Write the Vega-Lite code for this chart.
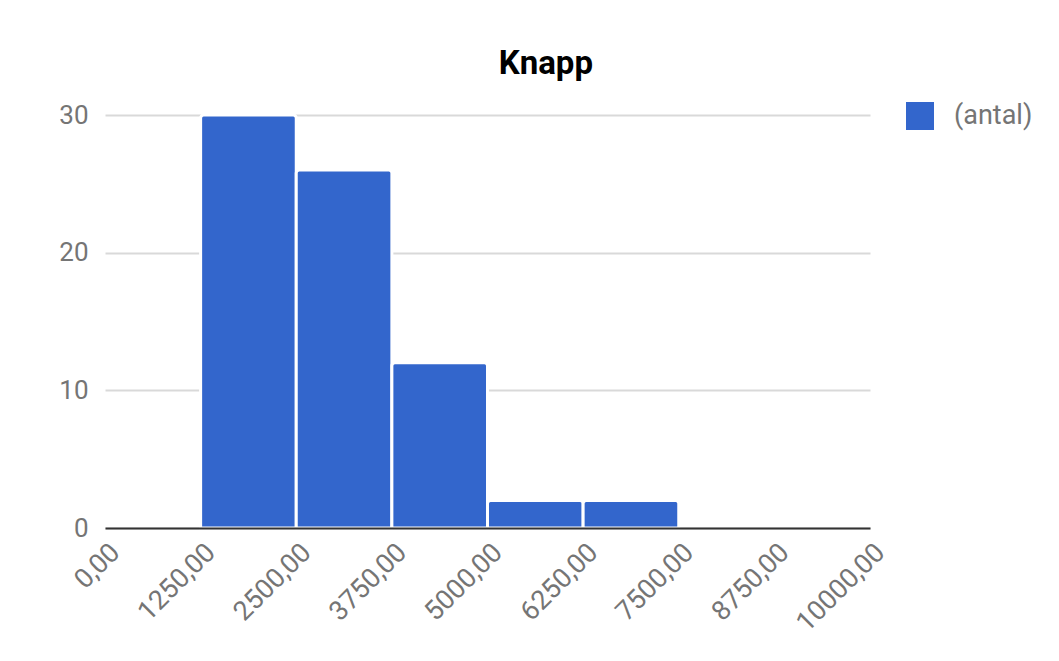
{
  "$schema": "https://vega.github.io/schema/vega-lite/v6.json",
  "autosize": "none",
  "width": 765,
  "height": 413,
  "padding": {"left": 105, "top": 115, "right": 189, "bottom": 133},
  "background": "white",
  "title": {
    "text": "Knapp",
    "font": "Roboto",
    "fontSize": 33,
    "fontWeight": "bold",
    "color": "#000000",
    "anchor": "middle",
    "frame": "bounds",
    "offset": 21
  },
  "data": {
    "values": [
      {"bin_start": 1250, "bin_end": 2500, "count": 30, "series": "(antal)"},
      {"bin_start": 2500, "bin_end": 3750, "count": 26, "series": "(antal)"},
      {"bin_start": 3750, "bin_end": 5000, "count": 12, "series": "(antal)"},
      {"bin_start": 5000, "bin_end": 6250, "count": 2, "series": "(antal)"},
      {"bin_start": 6250, "bin_end": 7500, "count": 2, "series": "(antal)"}
    ]
  },
  "mark": {
    "type": "bar",
    "stroke": "white",
    "strokeWidth": 3,
    "cornerRadiusTopLeft": 3,
    "cornerRadiusTopRight": 3
  },
  "encoding": {
    "x": {
      "field": "bin_start",
      "type": "quantitative",
      "scale": {"domain": [0, 10000], "nice": false, "zero": true},
      "axis": {
        "title": null,
        "values": [0, 1250, 2500, 3750, 5000, 6250, 7500, 8750, 10000],
        "labelExpr": "replace(format(datum.value, '.2f'), '.', ',')",
        "labelAngle": -45,
        "labelAlign": "right",
        "labelBaseline": "middle",
        "labelPadding": 20,
        "labelOffset": 10,
        "labelFont": "Roboto",
        "labelFontSize": 27,
        "labelColor": "#757575",
        "labelOverlap": false,
        "labelBound": false,
        "labelFlush": false,
        "ticks": false,
        "grid": false,
        "domain": true,
        "domainColor": "#333333",
        "domainWidth": 2,
        "zindex": 1
      }
    },
    "x2": {"field": "bin_end"},
    "y": {
      "field": "count",
      "type": "quantitative",
      "scale": {"domain": [0, 30], "nice": false},
      "axis": {
        "title": null,
        "values": [0, 10, 20, 30],
        "labelFont": "Roboto",
        "labelFontSize": 26,
        "labelColor": "#757575",
        "labelPadding": 17,
        "ticks": false,
        "domain": false,
        "grid": true,
        "gridColor": "#d9d9d9",
        "gridWidth": 2
      }
    },
    "y2": {"datum": 0},
    "color": {
      "field": "series",
      "type": "nominal",
      "scale": {"range": ["#3366cc"]},
      "legend": {
        "title": null,
        "orient": "none",
        "legendX": 801,
        "legendY": -13,
        "symbolType": "square",
        "symbolSize": 784,
        "symbolStrokeWidth": 0,
        "symbolOpacity": 1,
        "labelFont": "Roboto",
        "labelFontSize": 27,
        "labelColor": "#757575",
        "labelOffset": 20
      }
    }
  },
  "config": {
    "view": {"stroke": null}
  }
}
